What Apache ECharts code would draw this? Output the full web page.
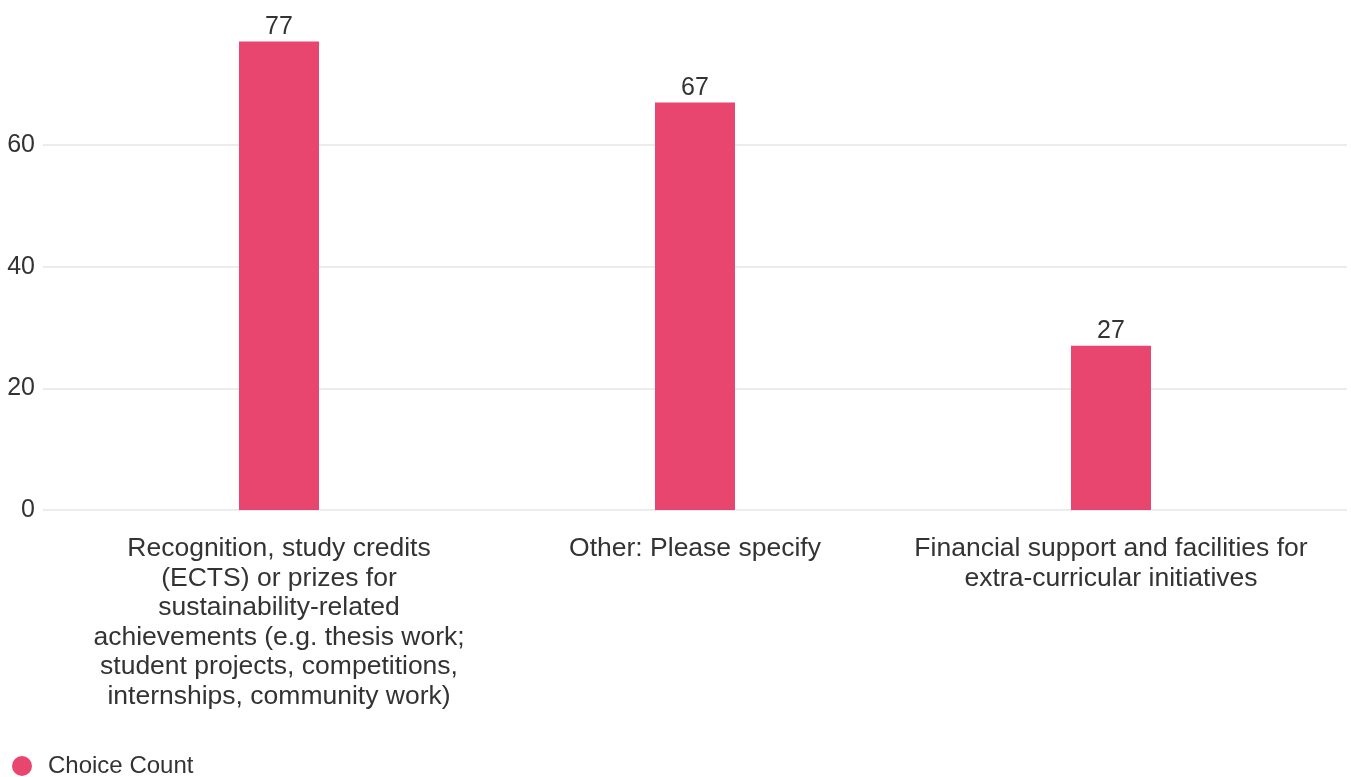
<!DOCTYPE html>
<html>
<head>
<meta charset="utf-8">
<title>Choice Count</title>
<script src="https://cdn.jsdelivr.net/npm/echarts@6/dist/echarts.min.js"></script>
<style>
  html, body { margin: 0; padding: 0; background: #ffffff; }
  #chart { width: 1351px; height: 777px; }
</style>
</head>
<body>
<div id="chart"></div>
<script>
// Answer options (line breaks as they appear under each bar)
const categories = [
  'Recognition, study credits\n(ECTS) or prizes for\nsustainability-related\nachievements (e.g. thesis work;\nstudent projects, competitions,\ninternships, community work)',
  'Other: Please specify',
  'Financial support and facilities for\nextra-curricular initiatives'
];
const choiceCount = [77, 67, 27];
const seriesName = 'Choice Count';

const FONT = '"Liberation Sans", Arial, sans-serif';
const TEXT = '#333333';
const BAR = '#e8466f';
const Y_MAX = 80;
const Y_STEP = 20;

const chart = echarts.init(document.getElementById('chart'), null, { renderer: 'canvas' });

chart.setOption({
  animation: false,
  textStyle: { fontFamily: FONT },
  legend: {
    data: [{ name: seriesName, icon: 'circle' }],
    left: 12,
    top: 754,
    padding: 0,
    itemWidth: 42,
    itemHeight: 20,
    textStyle: { fontSize: 24, color: TEXT, fontFamily: FONT }
  },
  grid: [
    // full-width grid carrying the value scale and gridlines
    { left: 43, right: 4, top: 23.33, bottom: 267, containLabel: false },
    // inner grid holding the bars and category labels
    { left: 71, right: 32, top: 23.33, bottom: 267, containLabel: false }
  ],
  xAxis: [
    {
      gridIndex: 0,
      type: 'category',
      data: categories,
      show: false
    },
    {
      gridIndex: 1,
      type: 'category',
      data: categories,
      axisLine: { show: false },
      axisTick: { show: false },
      axisLabel: {
        interval: 0,
        margin: 24,
        fontSize: 26.5,
        lineHeight: 29.5,
        color: TEXT,
        fontFamily: FONT,
        align: 'center'
      }
    }
  ],
  yAxis: [
    {
      gridIndex: 0,
      type: 'value',
      min: 0,
      max: Y_MAX,
      interval: Y_STEP,
      axisLine: { show: false },
      axisTick: { show: false },
      axisLabel: {
        margin: 8,
        fontSize: 25,
        color: TEXT,
        fontFamily: FONT,
        showMaxLabel: false
      },
      splitLine: {
        show: true,
        showMaxLine: false,
        lineStyle: { color: '#e6e6e6', width: 1.5 }
      }
    },
    {
      gridIndex: 1,
      type: 'value',
      min: 0,
      max: Y_MAX,
      interval: Y_STEP,
      show: false,
      splitLine: { show: false }
    }
  ],
  series: [
    {
      name: seriesName,
      type: 'bar',
      xAxisIndex: 1,
      yAxisIndex: 1,
      data: choiceCount,
      barWidth: 80,
      itemStyle: { color: BAR },
      label: {
        show: true,
        position: 'top',
        distance: 2,
        fontSize: 25,
        color: TEXT,
        fontFamily: FONT
      }
    }
  ]
});
</script>
</body>
</html>
